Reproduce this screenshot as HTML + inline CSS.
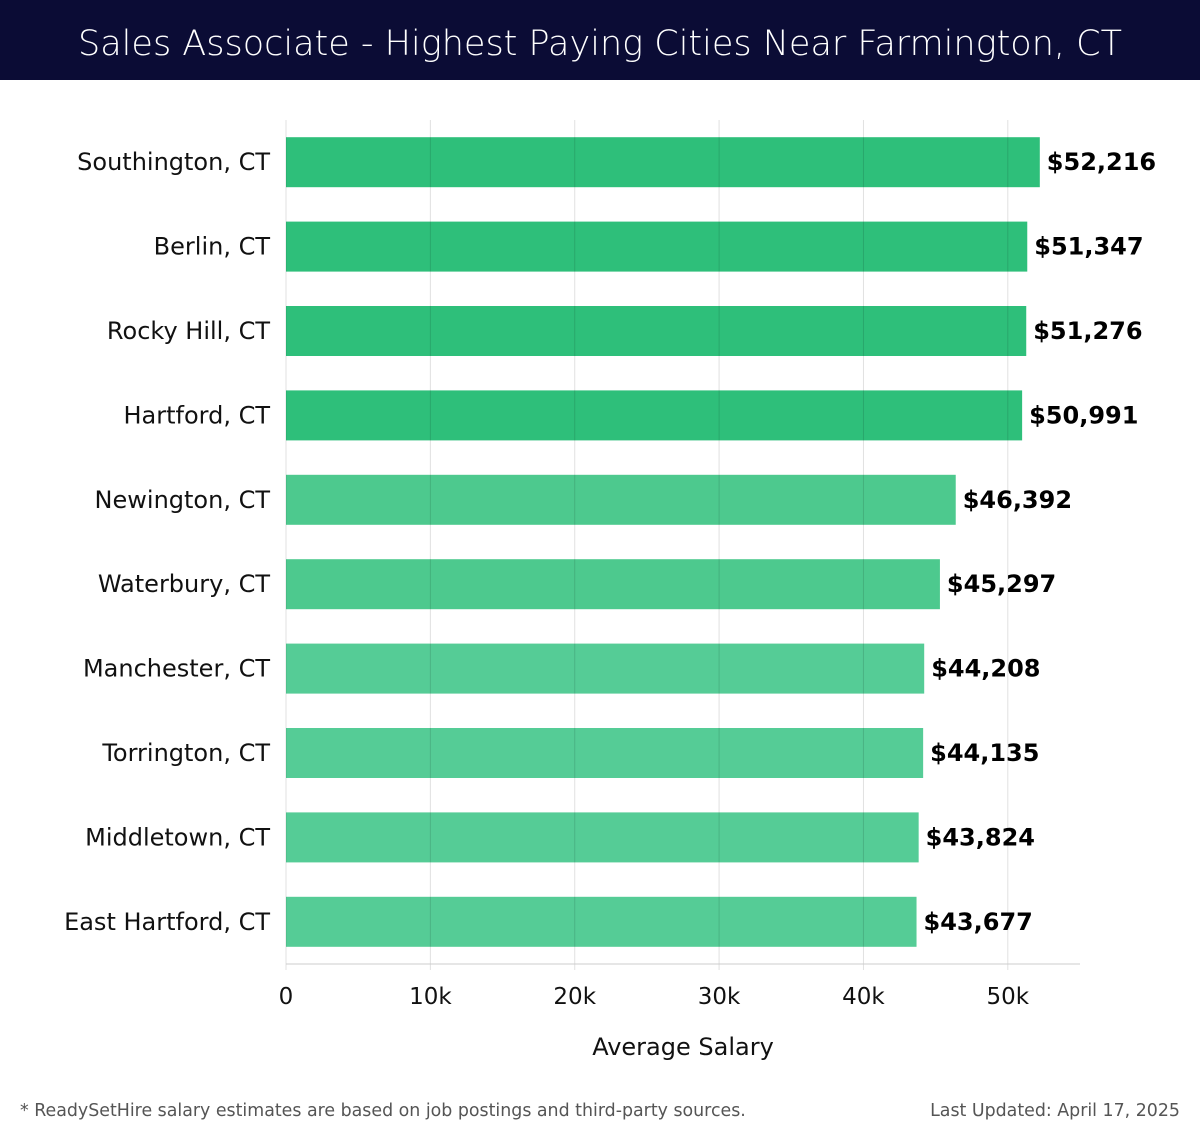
<!DOCTYPE html>
<html><head><meta charset="utf-8"><style>
body{margin:0;width:1200px;height:1140px;background:#fff;font-family:"DejaVu Sans","Liberation Sans",sans-serif;overflow:hidden}
#title{position:absolute;left:0;top:0;width:1200px;height:80px;background:#0b0c35;color:#fff;font-size:35px;text-align:center;line-height:88px;font-family:"DejaVu Sans","Liberation Sans",sans-serif;font-weight:300}
.foot{position:absolute;top:1101px;font-size:17.4px;color:#555;font-family:"DejaVu Sans","Liberation Sans",sans-serif}
</style></head><body>
<div id="title">Sales Associate - Highest Paying Cities Near Farmington, CT</div>
<svg id="chart" width="1200" height="1140" style="position:absolute;left:0;top:0;font-family:'DejaVu Sans','Liberation Sans',sans-serif"></svg>
<div class="foot" style="left:20px">* ReadySetHire salary estimates are based on job postings and third-party sources.</div>
<div class="foot" style="right:20px">Last Updated: April 17, 2025</div>
<script>
const cities=["Southington, CT","Berlin, CT","Rocky Hill, CT","Hartford, CT","Newington, CT","Waterbury, CT","Manchester, CT","Torrington, CT","Middletown, CT","East Hartford, CT"];
const salaries=[52216,51347,51276,50991,46392,45297,44208,44135,43824,43677];
const ticks=[0,10000,20000,30000,40000,50000];
const tickLabels=["0","10k","20k","30k","40k","50k"];
const NS="http://www.w3.org/2000/svg";
const svg=document.getElementById('chart');
const x0=286,x1=1080,xmax=55000,top0=120,bot=964;
const band=(bot-top0)/cities.length;
const x=v=>x0+(v/xmax)*(x1-x0);
const yc=i=>top0+band*(i+0.5);
function mk(t,a){const e=document.createElementNS(NS,t);for(const k in a)e.setAttribute(k,a[k]);svg.appendChild(e);return e;}
cities.forEach((c,i)=>{
 const b=mk('rect',{x:x0,y:yc(i)-25,width:x(salaries[i])-x0,height:50,fill:i<4?'#2ebf7a':(i<6?'#4dc98e':'#55cc96')});
 
 
});
ticks.forEach((t,i)=>{
 const g=mk('line',{x1:x(t),x2:x(t),y1:top0,y2:bot+6,stroke:'#000','stroke-opacity':0.12,'stroke-width':1});
 
 
 const l=mk('text',{x:x(t),y:1004,'text-anchor':'middle','font-size':23,fill:'#111'});
 l.textContent=tickLabels[i];
 
 
});
const ax=mk('line',{x1:x0,x2:x1,y1:bot,y2:bot,stroke:'#ccc'});


cities.forEach((c,i)=>{
 const l=mk('text',{x:270,y:yc(i)+8,'text-anchor':'end','font-size':24,fill:'#111'});
 l.textContent=c;
 
 
 const v=mk('text',{x:x(salaries[i])+7,y:yc(i)+8,'font-size':24,'font-weight':'bold',fill:'#000'});
 v.textContent='$'+salaries[i].toLocaleString('en-US');
 
 
});
const at=mk('text',{x:683,y:1055,'text-anchor':'middle','font-size':24,fill:'#111'});
at.textContent='Average Salary';


</script>
</body></html>
